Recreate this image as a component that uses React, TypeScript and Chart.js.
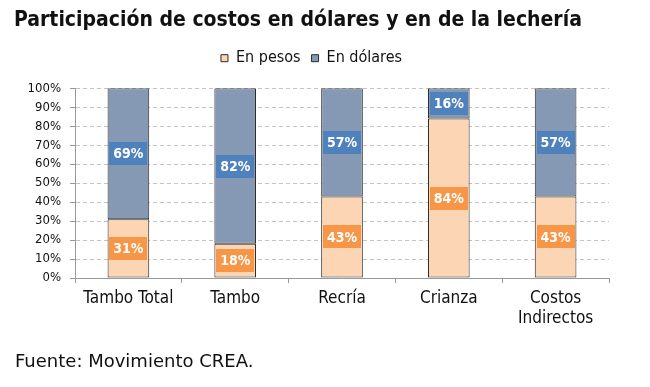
import React, { useEffect, useRef } from 'react';
import { Chart, registerables } from 'chart.js';

Chart.register(...registerables);

const titleText = 'Participación de costos en dólares y en de la lechería';
const sourceText = 'Fuente: Movimiento CREA.';
const categories: (string | string[])[] = ['Tambo Total', 'Tambo', 'Recría', 'Crianza', ['Costos', 'Indirectos']];
const seriesNames = ['En pesos', 'En dólares'];
const enPesos = [31, 18, 43, 84, 43];
const enDolares = [69, 82, 57, 16, 57];
const yTickStep = 10;
const yMax = 100;

const FONT = '"DejaVu Sans Condensed", "DejaVu Sans", sans-serif';
const TEXT = '#111111';

const boxLabels = {
  id: 'boxLabels',
  afterDatasetsDraw(chart: any) {
    const ctx = chart.ctx;
    ctx.save();
    chart.data.datasets.forEach((ds: any, di: number) => {
      const meta = chart.getDatasetMeta(di);
      meta.data.forEach((bar: any, i: number) => {
        const { x, y, base } = bar.getProps(['x', 'y', 'base'], true);
        const cy = (y + base) / 2;
        const text = ds.data[i] + '%';
        const w = 38;
        const h = 23;
        ctx.fillStyle = ds.labelBg;
        ctx.fillRect(Math.round(x - w / 2), Math.round(cy - h / 2), w, h);
        ctx.font = 'bold 14px ' + FONT;
        ctx.fillStyle = '#ffffff';
        ctx.textAlign = 'center';
        ctx.textBaseline = 'middle';
        ctx.fillText(text, x, cy + 1);
      });
    });
    ctx.restore();
  },
};

const legendGap = {
  id: 'legendGap',
  beforeLayout(chart: any) {
    const lg = chart.legend;
    if (lg && !lg.__gapPatched) {
      const orig = lg.fit.bind(lg);
      lg.fit = function () {
        orig();
        this.height += 12;
      };
      lg.__gapPatched = true;
    }
  },
};

export default function App() {
  const ref = useRef<HTMLCanvasElement | null>(null);

  useEffect(() => {
    if (!ref.current) return;
    const chart = new Chart(ref.current, {
      type: 'bar',
      data: {
        labels: categories,
        datasets: [
          {
            label: seriesNames[0],
            data: enPesos,
            backgroundColor: '#FCD5B5',
            borderColor: '#2a2a2a',
            borderWidth: 1,
            borderSkipped: false,
            barPercentage: 0.39,
            categoryPercentage: 1,
            labelBg: '#F79646',
          } as any,
          {
            label: seriesNames[1],
            data: enDolares,
            backgroundColor: '#8699B4',
            borderColor: '#2a2a2a',
            borderWidth: 1,
            borderSkipped: false,
            barPercentage: 0.39,
            categoryPercentage: 1,
            labelBg: '#4F81BD',
          } as any,
        ],
      },
      options: {
        animation: false,
        responsive: false,
        maintainAspectRatio: false,
        layout: { padding: { left: 14, right: 41, top: 0, bottom: 0 } },
        plugins: {
          title: {
            display: true,
            text: titleText,
            align: 'start',
            color: TEXT,
            font: { family: FONT, size: 21, weight: 'bold' },
            padding: { top: 8, bottom: 6 },
          },
          legend: {
            position: 'top',
            labels: {
              boxWidth: 7,
              boxHeight: 7,
              color: TEXT,
              padding: 11,
              font: { family: FONT, size: 16 },
            },
          },
          tooltip: { enabled: false },
        },
        scales: {
          x: {
            stacked: true,
            grid: {
              display: true,
              drawOnChartArea: false,
              drawTicks: true,
              tickLength: 5,
              color: '#999999',
              tickColor: '#999999',
              offset: true,
            },
            border: { display: true, color: '#999999' },
            ticks: {
              color: TEXT,
              font: { family: FONT, size: 17 },
              padding: 5,
              maxRotation: 0,
              autoSkip: false,
            },
            afterFit: (s: any) => {
              s.height = 387 - 278;
            },
          },
          y: {
            stacked: true,
            min: 0,
            max: yMax,
            ticks: {
              stepSize: yTickStep,
              callback: (v: any) => v + '%',
              color: TEXT,
              font: { family: FONT, size: 13 },
              padding: 9,
            },
            grid: {
              color: (c: any) => (c.tick && c.tick.value === 0 ? 'rgba(0,0,0,0)' : '#c4c4c4'),
              tickColor: '#999999',
              tickLength: 5,
              tickBorderDash: [],
            },
            border: { display: true, color: '#999999', dash: [4, 3] },
            afterFit: (s: any) => {
              s.width = 75 - 14;
            },
          },
        },
      },
      plugins: [legendGap, boxLabels],
    });
    return () => chart.destroy();
  }, []);

  return (
    <div style={{ position: 'fixed', left: 0, top: 0, width: 650, height: 387, background: '#fff' }}>
      <canvas ref={ref} width={650} height={387} style={{ display: 'block', width: 650, height: 387 }} />
      <div
        style={{
          position: 'absolute',
          left: 15,
          top: 351,
          fontFamily: '"DejaVu Sans", sans-serif',
          fontSize: 18,
          lineHeight: '20px',
          color: TEXT,
          whiteSpace: 'nowrap',
        }}
      >
        {sourceText}
      </div>
    </div>
  );
}
